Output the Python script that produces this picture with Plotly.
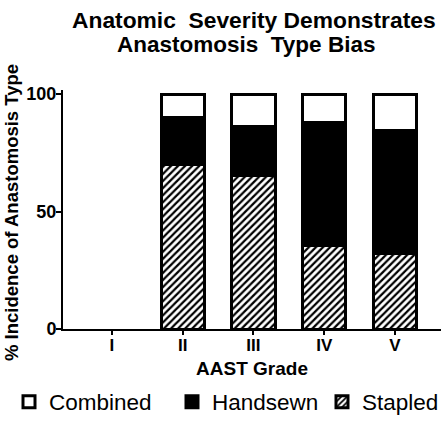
import plotly.graph_objects as go

grades = ["I", "II", "III", "IV", "V"]
stapled = [None, 70, 65.5, 35.5, 32]
handsewn = [None, 20, 20.5, 52.5, 52.5]
combined = [None, 10, 14, 12, 15.5]

y_ticks = [0, 50, 100]

FONT = "Liberation Sans, Arial, sans-serif"
BAR_W = 0.61
LINE_W = 3

W, H = 441, 425
L, R, T, B = 63, 0, 90, 96
ph = H - T - B
pw = W - L - R


def px(p):  # window pixel x -> paper
    return (p - L) / pw


def py(p):  # window pixel y -> paper
    return (H - B - p) / ph


fig = go.Figure()
fig.add_trace(go.Bar(
    x=grades, y=stapled, name="Stapled", width=BAR_W, legend="legend3",
    marker=dict(color="white", line=dict(color="black", width=LINE_W),
                pattern=dict(shape="/", fgcolor="black", bgcolor="white",
                             size=5, solidity=0.45, fillmode="replace")),
))
fig.add_trace(go.Bar(
    x=grades, y=handsewn, name="Handsewn", width=BAR_W, legend="legend2",
    marker=dict(color="black", line=dict(color="black", width=LINE_W)),
))
fig.add_trace(go.Bar(
    x=grades, y=combined, name="Combined", width=BAR_W, legend="legend",
    marker=dict(color="white", line=dict(color="black", width=LINE_W)),
))


def leg(xwin, anchor="left"):
    return dict(orientation="h", x=px(xwin), xanchor=anchor, y=py(402), yanchor="middle",
                font=dict(family=FONT, size=22.5, color="black"),
                bgcolor="rgba(0,0,0,0)")


fig.update_layout(
    width=W, height=H,
    margin=dict(l=L, r=R, t=T, b=B, autoexpand=False),
    barmode="stack",
    plot_bgcolor="white", paper_bgcolor="white",
    font=dict(family=FONT, color="black"),
    showlegend=True,
    legend=leg(9),
    legend2=leg(172),
    legend3=leg(444, "right"),
    annotations=[
        dict(text="Anatomic\u00a0 Severity Demonstrates", xref="paper", yref="paper",
             x=px(253.5), y=py(20), xanchor="center", yanchor="middle", showarrow=False,
             font=dict(family=FONT, size=22.8, color="black", weight="bold")),
        dict(text="Anastomosis\u00a0 Type Bias", xref="paper", yref="paper",
             x=px(246), y=py(44.8), xanchor="center", yanchor="middle", showarrow=False,
             font=dict(family=FONT, size=22.5, color="black", weight="bold")),
        dict(text="% Incidence of Anastomosis Type", xref="paper", yref="paper",
             x=px(11), y=py(213), xanchor="center", yanchor="middle", showarrow=False,
             textangle=-90,
             font=dict(family=FONT, size=18.5, color="black", weight="bold")),
    ],
)

fig.update_xaxes(
    range=[-0.69, 4.65],
    showline=True, linecolor="black", linewidth=2,
    ticks="outside", ticklen=4, tickwidth=2, tickcolor="black",
    ticklabelstandoff=-4,
    tickfont=dict(family=FONT, size=17, color="black", weight="bold"),
    showgrid=False, zeroline=False,
    title=dict(text="AAST Grade", standoff=7,
               font=dict(family=FONT, size=19, color="black", weight="bold")),
)
fig.update_yaxes(
    range=[0, 101.7],
    tickvals=y_ticks,
    showline=True, linecolor="black", linewidth=2,
    ticks="outside", ticklen=5, tickwidth=2, tickcolor="black",
    ticklabelstandoff=-4,
    tickfont=dict(family=FONT, size=18, color="black", weight="bold"),
    showgrid=False, zeroline=False,
)

# remove the browser's default 8px body margin so the figure fills the window
fig.write_html("out.html", config={"displayModeBar": False},
               post_script="document.body.style.margin='0';")
